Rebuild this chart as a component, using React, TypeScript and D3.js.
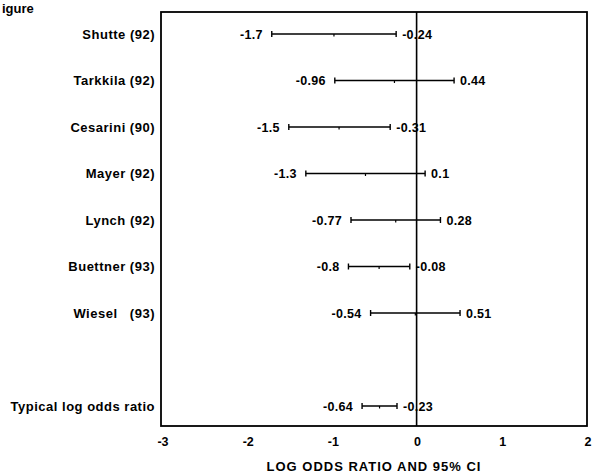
import React from "react";
import * as d3 from "d3";

const studies = ["Shutte (92)", "Tarkkila (92)", "Cesarini (90)", "Mayer (92)", "Lynch (92)", "Buettner (93)", "Wiesel   (93)", "Typical log odds ratio"];
const lowerCI = [-1.7, -0.96, -1.5, -1.3, -0.77, -0.8, -0.54, -0.64];
const upperCI = [-0.24, 0.44, -0.31, 0.1, 0.28, -0.08, 0.51, -0.23];
const estimates = [-0.97, -0.26, -0.91, -0.6, -0.245, -0.44, -0.015, -0.435];
const rowSlots = [0, 1, 2, 3, 4, 5, 6, 8];
const xTicks = [-3, -2, -1, 0, 1, 2];
const xTitle = "LOG ODDS RATIO AND 95% CI";
const figureLabel = "igure";

const W = 592, H = 473;
const FONT = "'Liberation Sans', Arial, sans-serif";

export default function App() {
  const x = d3.scaleLinear().domain([-3, 2]).range([161, 587]);
  const y = d3.scaleLinear().domain([0, 8]).range([34, 406]);
  const top = 12, bottom = 426;
  const fmt = (v: number) => String(v);
  return (
    <svg width={W} height={H} style={{ position: "absolute", left: 0, top: 0, background: "#fff" }} fontFamily={FONT} fontWeight="bold">
      <rect x={0} y={0} width={W} height={H} fill="#fff" />
      <text x={2} y={13} fontSize={13} fill="#000">{figureLabel}</text>
      <rect x={x(-3)} y={top} width={x(2) - x(-3)} height={bottom - top} fill="none" stroke="#000" strokeWidth={1.8} />
      <line x1={x(0)} x2={x(0)} y1={top} y2={bottom} stroke="#000" strokeWidth={1.6} />
      {studies.map((s, i) => {
        const yy = y(rowSlots[i]);
        const x1 = x(lowerCI[i]);
        const x2 = x(upperCI[i]);
        const xm = x(estimates[i]);
        return (
          <g key={s}>
            <text x={155} y={yy + 4.5} textAnchor="end" fontSize={13} letterSpacing={0.5} fill="#000" style={{ whiteSpace: "pre" }}>{s}</text>
            <line x1={x1} x2={x2} y1={yy} y2={yy} stroke="#000" strokeWidth={1.6} />
            <line x1={x1} x2={x1} y1={yy - 3} y2={yy + 3} stroke="#000" strokeWidth={1.4} />
            <line x1={x2} x2={x2} y1={yy - 3} y2={yy + 3} stroke="#000" strokeWidth={1.4} />
            <line x1={xm} x2={xm} y1={yy} y2={yy + 2.5} stroke="#000" strokeWidth={1.2} />
            <text x={x1 - 9} y={yy + 4.5} textAnchor="end" fontSize={12.5} letterSpacing={0.3} fill="#000">{fmt(lowerCI[i])}</text>
            <text x={x2 + 6} y={yy + 4.5} textAnchor="start" fontSize={12.5} letterSpacing={0.3} fill="#000">{fmt(upperCI[i])}</text>
          </g>
        );
      })}
      {xTicks.map((t) => (
        <text key={t} x={x(t) + (t < 0 ? 2 : 1)} y={446} textAnchor="middle" fontSize={12.5} fill="#000">{t}</text>
      ))}
      <text x={(x(-3) + x(2)) / 2} y={471} textAnchor="middle" fontSize={13} letterSpacing={1} fill="#000">{xTitle}</text>
    </svg>
  );
}
